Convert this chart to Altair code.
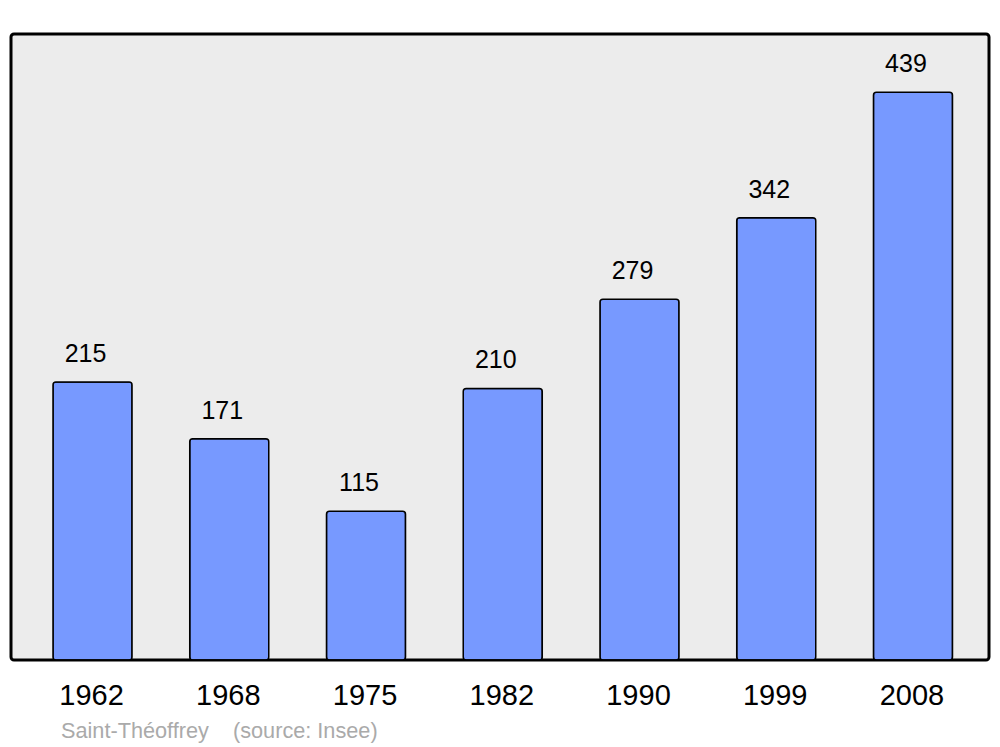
import altair as alt
import pandas as pd

years = ["1962", "1968", "1975", "1982", "1990", "1999", "2008"]
population = [215, 171, 115, 210, 279, 342, 439]
source_label = ["Saint-Théoffrey\u00a0\u00a0\u00a0\u00a0(source: Insee)"]

df = pd.DataFrame({"year": years, "pop": population})
src = pd.DataFrame({"t": source_label})

x = alt.X("year:N", sort=years,
          scale=alt.Scale(paddingInner=0.422, paddingOuter=0.287, align=0.535),
          axis=alt.Axis(title=None, ticks=False, domain=False, labelAngle=0,
                        labelFontSize=29, labelFont="Liberation Sans", labelColor="black",
                        labelPadding=35, labelBaseline="middle", labelOffset=-1))
y = alt.Y("pop:Q", scale=alt.Scale(domain=[0, 484], nice=False),
          axis=None)

bars = alt.Chart(df).mark_bar(color="#7799ff", stroke="black", strokeWidth=1.5,
                              cornerRadius=3).encode(x=x, y=y)
labels = alt.Chart(df).mark_text(fontSize=25, font="Liberation Sans", color="black",
                                 baseline="alphabetic", dy=-20, dx=-7).encode(
    x=alt.X("year:N", sort=years), y="pop:Q", text="pop:Q")
source = alt.Chart(src).mark_text(fontSize=21.7, font="Liberation Sans", color="#aaaaaa",
                                  align="left", baseline="middle").encode(
    x=alt.value(50), y=alt.value(697), text="t:N")

chart = alt.layer(bars, labels, source).properties(
    width=978, height=626,
    autosize=alt.AutoSizeParams(type="none"),
    padding={"left": 3, "top": 26, "right": 3, "bottom": 84},
    background="white",
).configure_view(fill="#ececec", stroke="black", strokeWidth=3, cornerRadius=3)

chart.save("out.html", embed_options={"renderer": "svg", "actions": False})
